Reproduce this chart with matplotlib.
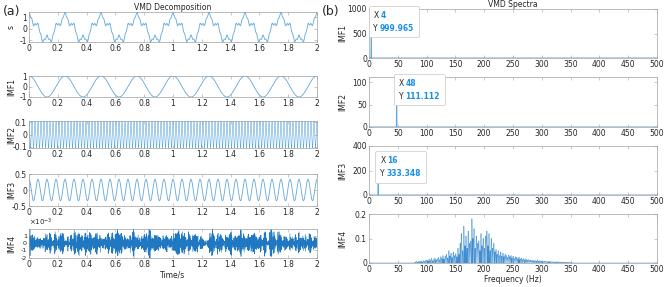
import numpy as np
import matplotlib.pyplot as plt
from matplotlib.offsetbox import TextArea, HPacker, VPacker, AnnotationBbox

fs = 1000          # Hz
n_samples = 2000   # 2 s

# datatips: peak frequency (Hz) and |FFT| value
peak_freq = [4, 48, 16]
peak_height = [999.965, 111.112, 333.348]

# IMF4 spectrum heights (|FFT|), one per 2 Hz cell starting at 80 Hz
imf4_start_hz = 80
imf4_step_hz = 2
imf4_height = [
    0.004, 0.006, 0.003, 0.007, 0.005, 0.008, 0.004, 0.009, 0.006, 0.010,
    0.012, 0.007, 0.015, 0.010, 0.018, 0.009, 0.014, 0.020, 0.011, 0.016,
    0.022, 0.013, 0.025, 0.018, 0.030, 0.016, 0.027, 0.035, 0.020, 0.050,
    0.028, 0.040, 0.022, 0.045, 0.030, 0.038, 0.025, 0.060, 0.035, 0.080,
    0.120, 0.050, 0.150, 0.070, 0.110, 0.060, 0.130, 0.080, 0.090, 0.180,
    0.100, 0.140, 0.060, 0.110, 0.080, 0.090, 0.050, 0.120, 0.070, 0.100,
    0.060, 0.110, 0.130, 0.070, 0.120, 0.050, 0.100, 0.060, 0.080, 0.045,
    0.055, 0.035, 0.050, 0.030, 0.045, 0.028, 0.040, 0.025, 0.035, 0.030,
    0.022, 0.032, 0.025, 0.030, 0.020, 0.028, 0.018, 0.025, 0.022, 0.016,
    0.024, 0.015, 0.020, 0.013, 0.018, 0.012, 0.016, 0.011, 0.014, 0.010,
    0.012, 0.009, 0.011, 0.008, 0.010, 0.007, 0.012, 0.006, 0.009, 0.007,
    0.008, 0.005, 0.007, 0.006, 0.005, 0.007, 0.004, 0.006, 0.005, 0.004,
    0.005, 0.003, 0.004, 0.005, 0.003, 0.004, 0.003, 0.004, 0.002, 0.003,
    0.003, 0.002, 0.003, 0.002, 0.002, 0.003,
]

left_labels = ['s', 'IMF1', 'IMF2', 'IMF3', 'IMF4']
right_labels = ['IMF1', 'IMF2', 'IMF3', 'IMF4']

# ---- build signals ----
t = np.arange(n_samples) / fs
imf1 = 2 * peak_height[0] / n_samples * np.cos(2 * np.pi * peak_freq[0] * t)
imf2 = 2 * peak_height[1] / n_samples * np.cos(2 * np.pi * peak_freq[1] * t)
imf3 = 2 * peak_height[2] / n_samples * np.cos(2 * np.pi * peak_freq[2] * t)


def phase(j):
    # fixed, hash-like phase so the band-limited part looks noisy
    return 2 * np.pi * ((np.sin(j * 12.9898) * 43758.5453) % 1.0)


# three components per 2 Hz cell (at +0, +0.5, +1 Hz)
imf4 = np.zeros(n_samples)
for k, h in enumerate(imf4_height):
    for m in range(3):
        f = imf4_start_hz + imf4_step_hz * k + 0.5 * m
        imf4 += 2 * h / n_samples * np.cos(2 * np.pi * f * t + phase(3 * k + m + 1))

s = imf1 + imf2 + imf3 + imf4
freq = np.arange(n_samples) * fs / n_samples
half = freq <= 500

# ---- figure ----
W, H = 664, 287
fig = plt.figure(figsize=(W / 100, H / 100), dpi=100)


def add_ax(x0, x1, y0, y1):
    return fig.add_axes([x0 / W, 1 - y1 / H, (x1 - x0) / W, (y1 - y0) / H])


def style(ax):
    for sp in ax.spines.values():
        sp.set_color('#a0a0a0')
        sp.set_linewidth(0.5)
    ax.tick_params(direction='in', length=2, width=0.4, color='#a0a0a0',
                   labelcolor='#262626', labelsize=5.5, top=True, right=True,
                   pad=1.5)


light = '#5fa8de'
dark = '#1f78c1'

left_y = [(12, 42), (76, 97), (121, 148), (174, 206), (229, 258)]
left_series = [s, imf1, imf2, imf3, imf4]
left_ticks = [[-1, 0, 1], [-1, 0, 1], [-0.1, 0, 0.1], [-0.5, 0, 0.5],
              [-2e-3, -1e-3, 0, 1e-3]]
left_ylim = [(s.min(), s.max()), (-1, 1), (-0.112, 0.112), (-0.5, 0.5),
             (-2.05e-3, 1.95e-3)]
xt = np.arange(0, 2.01, 0.2)

for i, (yy, data) in enumerate(zip(left_y, left_series)):
    ax = add_ax(29, 317, yy[0], yy[1])
    style(ax)
    ax.plot(t, data, color=dark if i == 4 else light,
            lw=0.4 if i in (2, 4) else 0.6)
    ax.set_xlim(0, 2)
    ax.set_ylim(*left_ylim[i])
    ax.set_xticks(xt)
    ax.set_xticklabels([f'{v:g}' for v in np.round(xt, 1)])
    ax.set_yticks(left_ticks[i])
    if i == 4:
        ax.set_yticklabels(['-2', '-1', '0', '1'], fontsize=4.6)
        ax.text(0, 1.02, r'$\times10^{-3}$', transform=ax.transAxes,
                fontsize=5, color='#262626', va='bottom', ha='left')
        ax.set_xlabel('Time/s', fontsize=5.5, color='#262626', labelpad=1)
    else:
        ax.set_yticklabels([f'{v:g}' for v in left_ticks[i]])
    ax.set_ylabel(left_labels[i], fontsize=5.5, color='#262626')
    ax.yaxis.set_label_coords(-0.045, 0.5)
    if i == 0:
        ax.set_title('VMD Decomposition', fontsize=5.5, color='#262626', pad=1.5)

right_y = [(9, 58), (77, 127), (146, 195), (214, 263)]
right_series = [imf1, imf2, imf3, imf4]
right_ticks = [[0, 500, 1000], [0, 50, 100], [0, 200, 400], [0, 0.1, 0.2]]
right_ylim = [(0, 1000), (0, 111.2), (0, 400), (0, 0.2)]
fx = np.arange(0, 501, 50)

for i, (yy, data) in enumerate(zip(right_y, right_series)):
    ax = add_ax(369, 657, yy[0], yy[1])
    style(ax)
    spec = np.abs(np.fft.fft(data))
    ax.plot(freq[half], spec[half], color='#3a8ad0' if i == 3 else light,
            lw=0.35 if i == 3 else 0.7)
    ax.set_xlim(0, 500)
    ax.set_ylim(*right_ylim[i])
    ax.set_xticks(fx)
    ax.set_yticks(right_ticks[i])
    ax.set_yticklabels([f'{v:g}' for v in right_ticks[i]])
    ax.set_ylabel(right_labels[i], fontsize=5.5, color='#262626')
    ax.yaxis.set_label_coords(-0.075, 0.5)
    if i == 0:
        ax.set_title('VMD Spectra', fontsize=5.5, color='#262626', pad=1.5)
    if i == 3:
        ax.set_xlabel('Frequency (Hz)', fontsize=5.5, color='#262626', labelpad=1)
    if i < 3:
        px, py = peak_freq[i], peak_height[i]
        ax.plot([px], [py], 's', ms=1.5, color='black', clip_on=False, zorder=6)
        rows = []
        for lab, val in (('X', f'{px:g}'), ('Y', f'{py:.3f}')):
            rows.append(HPacker(children=[
                TextArea(lab, textprops=dict(fontsize=5.5, color='#262626')),
                TextArea(val, textprops=dict(fontsize=5.5, color='#1a8fe8',
                                             fontweight='bold'))],
                align='baseline', pad=0, sep=1.5))
        box = VPacker(children=rows, align='left', pad=0, sep=2.5)
        ab = AnnotationBbox(box, (px, py), xybox=(1.5, -1.5),
                            xycoords='data', boxcoords='offset points',
                            box_alignment=(0, 1), frameon=True, pad=0.35,
                            bboxprops=dict(edgecolor='#c8c8c8',
                                           facecolor='white', lw=0.5,
                                           boxstyle='round,pad=0.35,rounding_size=0.1'),
                            zorder=7)
        ax.add_artist(ab)

fig.text(3 / W, 1 - 11 / H, '(a)', fontsize=9, color='#262626', va='center')
fig.text(322 / W, 1 - 11 / H, '(b)', fontsize=9, color='#262626', va='center')

fig.savefig('out.png', dpi=100)
